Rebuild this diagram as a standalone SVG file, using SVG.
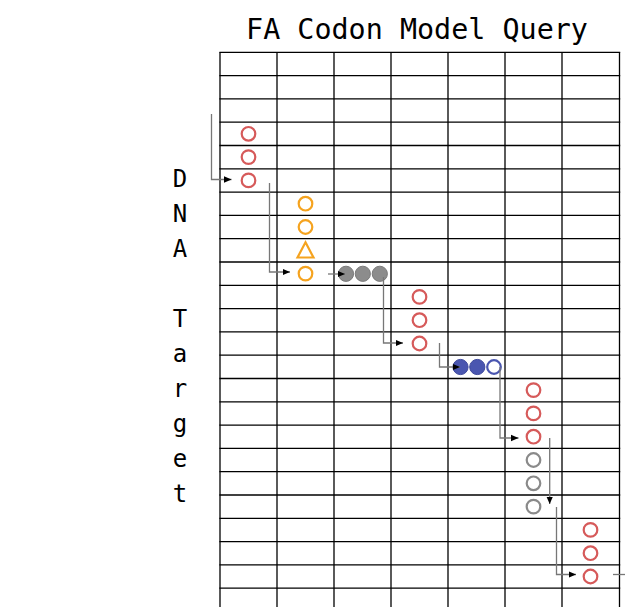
<svg xmlns="http://www.w3.org/2000/svg" width="625" height="607" viewBox="0 0 625 607">
<style>
.t{font-family:"DejaVu Sans Mono","Liberation Mono",monospace;fill:#000}
.g line{stroke:#000;stroke-width:1.3}
.red{fill:none;stroke:#d65a5a;stroke-width:2.2}
.org{fill:none;stroke:#f5a31f;stroke-width:2.2}
.gry{fill:none;stroke:#8a8a8a;stroke-width:2.2}
.gf{fill:#8c8c8c;stroke:#7a7a7a;stroke-width:1}
.bf{fill:#4a56b0;stroke:#3d489c;stroke-width:1}
.bo{fill:#fff;stroke:#4a56b0;stroke-width:2.2}
.c{fill:none;stroke:#777;stroke-width:1.3}
</style>
<defs>
<marker id="ah" markerWidth="9" markerHeight="9" refX="7.5" refY="4.5" orient="auto" markerUnits="userSpaceOnUse">
<path d="M0,1.2 L7.5,4.5 L0,7.8 Z" fill="#000"/>
</marker>
</defs>
<rect width="625" height="607" fill="#fff"/>
<text class="t" x="417" y="38.5" font-size="28.4" text-anchor="middle">FA Codon Model Query</text>
<g class="t" font-size="24" text-anchor="middle">
<text x="180" y="187">D</text>
<text x="180" y="222">N</text>
<text x="180" y="257">A</text>
<text x="180" y="327">T</text>
<text x="180" y="362">a</text>
<text x="180" y="397">r</text>
<text x="180" y="432">g</text>
<text x="180" y="467">e</text>
<text x="180" y="502">t</text>
</g>
<g id="grid" class="g">
<line x1="220" y1="52.3" x2="220" y2="607"/>
<line x1="277" y1="52.3" x2="277" y2="607"/>
<line x1="334" y1="52.3" x2="334" y2="607"/>
<line x1="391" y1="52.3" x2="391" y2="607"/>
<line x1="448" y1="52.3" x2="448" y2="607"/>
<line x1="505" y1="52.3" x2="505" y2="607"/>
<line x1="562" y1="52.3" x2="562" y2="607"/>
<line x1="619.5" y1="52.3" x2="619.5" y2="607"/>
<line x1="219.4" y1="52.3" x2="620.2" y2="52.3"/>
<line x1="219.4" y1="75.6" x2="620.2" y2="75.6"/>
<line x1="219.4" y1="98.9" x2="620.2" y2="98.9"/>
<line x1="219.4" y1="122.2" x2="620.2" y2="122.2"/>
<line x1="219.4" y1="145.5" x2="620.2" y2="145.5"/>
<line x1="219.4" y1="168.8" x2="620.2" y2="168.8"/>
<line x1="219.4" y1="192.1" x2="620.2" y2="192.1"/>
<line x1="219.4" y1="215.4" x2="620.2" y2="215.4"/>
<line x1="219.4" y1="238.7" x2="620.2" y2="238.7"/>
<line x1="219.4" y1="262" x2="620.2" y2="262"/>
<line x1="219.4" y1="285.3" x2="620.2" y2="285.3"/>
<line x1="219.4" y1="308.6" x2="620.2" y2="308.6"/>
<line x1="219.4" y1="331.9" x2="620.2" y2="331.9"/>
<line x1="219.4" y1="355.2" x2="620.2" y2="355.2"/>
<line x1="219.4" y1="378.5" x2="620.2" y2="378.5"/>
<line x1="219.4" y1="401.8" x2="620.2" y2="401.8"/>
<line x1="219.4" y1="425.1" x2="620.2" y2="425.1"/>
<line x1="219.4" y1="448.4" x2="620.2" y2="448.4"/>
<line x1="219.4" y1="471.7" x2="620.2" y2="471.7"/>
<line x1="219.4" y1="495" x2="620.2" y2="495"/>
<line x1="219.4" y1="518.3" x2="620.2" y2="518.3"/>
<line x1="219.4" y1="541.6" x2="620.2" y2="541.6"/>
<line x1="219.4" y1="564.9" x2="620.2" y2="564.9"/>
<line x1="219.4" y1="588.2" x2="620.2" y2="588.2"/>
</g>
<g id="codon1">
<circle class="red" cx="248.5" cy="133.8" r="6.8"/>
<circle class="red" cx="248.5" cy="157.1" r="6.8"/>
<circle class="red" cx="248.5" cy="180.4" r="6.8"/>
</g>
<g id="codon2">
<circle class="org" cx="305.5" cy="203.7" r="6.8"/>
<circle class="org" cx="305.5" cy="227" r="6.8"/>
<path class="org" d="M305.5,242.3 L313.5,257.5 L297.5,257.5 Z" stroke-linejoin="miter"/>
<circle class="org" cx="305.5" cy="273.6" r="6.8"/>
</g>
<g id="gap1">
<circle class="gf" cx="346" cy="273.8" r="7.6"/>
<circle class="gf" cx="362.8" cy="273.8" r="7.6"/>
<circle class="gf" cx="379.8" cy="273.8" r="7.6"/>
</g>
<g id="codon3">
<circle class="red" cx="419.5" cy="296.9" r="6.8"/>
<circle class="red" cx="419.5" cy="320.2" r="6.8"/>
<circle class="red" cx="419.5" cy="343.5" r="6.8"/>
</g>
<g id="gap2">
<circle class="bf" cx="460.5" cy="367" r="7.6"/>
<circle class="bf" cx="477.3" cy="367" r="7.6"/>
<circle class="bo" cx="494" cy="367" r="6.8"/>
</g>
<g id="codon4">
<circle class="red" cx="533.5" cy="390.1" r="6.8"/>
<circle class="red" cx="533.5" cy="413.4" r="6.8"/>
<circle class="red" cx="533.5" cy="436.7" r="6.8"/>
</g>
<g id="codon5">
<circle class="gry" cx="533.5" cy="460" r="6.8"/>
<circle class="gry" cx="533.5" cy="483.3" r="6.8"/>
<circle class="gry" cx="533.5" cy="506.6" r="6.8"/>
</g>
<g id="codon6">
<circle class="red" cx="590.5" cy="529.9" r="6.8"/>
<circle class="red" cx="590.5" cy="553.2" r="6.8"/>
<circle class="red" cx="590.5" cy="576.5" r="6.8"/>
</g>
<g id="connectors" class="c">
<polyline points="211.5,114 211.5,179.5 231.5,179.5" marker-end="url(#ah)"/>
<polyline points="269.5,183 269.5,272 290,272" marker-end="url(#ah)"/>
<polyline points="328,274 345,274" marker-end="url(#ah)"/>
<polyline points="383.5,277 383.5,343 403,343" marker-end="url(#ah)"/>
<polyline points="439.5,343 439.5,367 460,367" marker-end="url(#ah)"/>
<polyline points="500,367 500,438 518.5,438" marker-end="url(#ah)"/>
<polyline points="549.7,438 549.7,504" marker-end="url(#ah)"/>
<polyline points="556.5,507 556.5,574.5 576,574.5" marker-end="url(#ah)"/>
<line x1="613" y1="574.5" x2="625" y2="574.5"/>
</g>
</svg>
